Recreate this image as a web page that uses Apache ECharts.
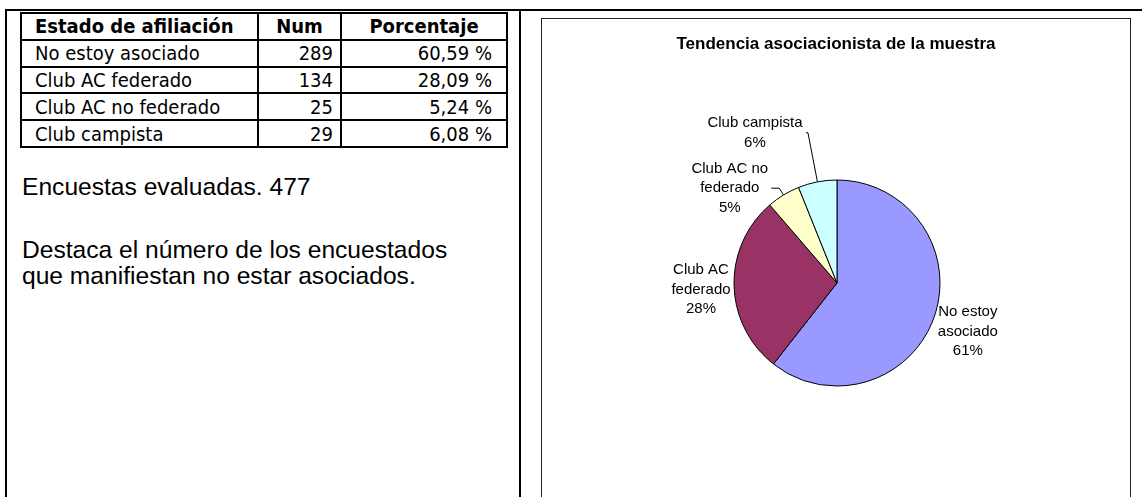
<!DOCTYPE html>
<html>
<head>
<meta charset="utf-8">
<script src="https://cdn.jsdelivr.net/npm/echarts@6/dist/echarts.min.js"></script>
<style>
  html, body { margin: 0; padding: 0; background: #fff; }
  body { position: relative; width: 1142px; height: 497px; overflow: hidden; }
  .frame { position: absolute; left: 5px; top: 9px; width: 1200px; height: 600px;
    border-top: 2px solid #000; border-left: 2px solid #000; }
  .split { position: absolute; left: 519px; top: 9px; width: 2px; height: 600px; background: #000; }
  .stats { position: absolute; left: 20px; top: 12px; width: 486px; table-layout: fixed;
    border-collapse: collapse; font-family: 'DejaVu Sans Condensed', 'DejaVu Sans', sans-serif;
    font-stretch: condensed; font-size: 20px; color: #000; }
  .stats td, .stats th { border: 2px solid #000; height: 24.8px; padding: 0; line-height: 24px; white-space: nowrap; }
  .stats th { font-weight: bold; text-align: center; }
  .stats .l { text-align: left; padding-left: 13px; }
  .stats .n { text-align: right; padding-right: 7px; }
  .stats .p { text-align: right; padding-right: 14px; }
  .notes { position: absolute; left: 22px; font-family: 'Liberation Sans', Arial, sans-serif;
    font-size: 24.6px; line-height: 26px; color: #000; margin: 0; }
  .box { position: absolute; left: 541px; top: 18px; width: 588px; height: 500px; border: 1px solid #222; }
  #chart { width: 588px; height: 478px; }
</style>
</head>
<body>
<div class="frame"></div>
<div class="split"></div>
<table class="stats" id="stats">
  <colgroup><col style="width:237px"><col style="width:83px"><col style="width:166px"></colgroup>
</table>
<p class="notes" id="total" style="top:174px"></p>
<p class="notes" style="top:237px">Destaca el número de los encuestados<br>que manifiestan no estar asociados.</p>
<div class="box"><div id="chart"></div></div>

<script>
const tableHeader = ['Estado de afiliación', 'Num', 'Porcentaje']
const categories = ['No estoy asociado', 'Club AC federado', 'Club AC no federado', 'Club campista']
const counts = [289, 134, 25, 29]
const shares = ['60,59 %', '28,09 %', '5,24 %', '6,08 %']
const surveyed = 477
const chartTitle = 'Tendencia asociacionista de la muestra'
// how Excel wrapped the slice names
const sliceLabels = ['No estoy\nasociado', 'Club AC\nfederado', 'Club AC no\nfederado', 'Club campista']

const sliceColors = ['#9999FF', '#993366', '#FFFFCC', '#CCFFFF']
const leaders = [
  { show: false, length: 0, length2: 0 },
  { show: false, length: 0, length2: 0 },
  { show: true, length: 8, length2: 8 },
  { show: true, length: 50, length2: 2 },
]
const labelNudge = [15, 4, 0, 0]
const FONT = "'Liberation Sans', Arial, sans-serif"

// table + notes
const table = document.getElementById('stats')
const head = table.insertRow()
head.innerHTML = `<th class="l" style="text-align:left">${tableHeader[0]}</th><th>${tableHeader[1]}</th><th>${tableHeader[2]}</th>`
categories.forEach((c, i) => {
  const tr = table.insertRow()
  tr.innerHTML = `<td class="l">${c}</td><td class="n">${counts[i]}</td><td class="p">${shares[i]}</td>`
})
document.getElementById('total').textContent = `Encuestas evaluadas. ${surveyed}`

// width of each wrapped label so its lines can be centred
const ctx = document.createElement('canvas').getContext('2d')
ctx.font = "15px 'Liberation Sans'"
const rich = {}
sliceLabels.forEach((s, i) => {
  const lines = [...s.split('\n'), '100%']
  rich['r' + i] = {
    width: Math.ceil(Math.max(...lines.map((l) => ctx.measureText(l).width))),
    align: 'center',
    fontSize: 15,
    lineHeight: 19.5,
    fontFamily: FONT,
    color: '#000',
  }
})

const chart = echarts.init(document.getElementById('chart'), null, { renderer: 'canvas' })
chart.setOption({
  animation: false,
  title: {
    text: chartTitle,
    left: 'center',
    top: 17,
    padding: 0,
    textStyle: { fontSize: 17, fontWeight: 'bold', fontFamily: FONT, color: '#000' },
  },
  series: [
    {
      type: 'pie',
      center: [295, 264],
      radius: 103,
      startAngle: 90,
      clockwise: true,
      percentPrecision: 0,
      avoidLabelOverlap: false,
      emphasis: { disabled: true },
      itemStyle: { borderColor: '#000', borderWidth: 1 },
      label: {
        position: 'outside',
        distanceToLabelLine: 3,
        formatter: (p) =>
          [...sliceLabels[p.dataIndex].split('\n'), p.percent + '%']
            .map((t) => `{r${p.dataIndex}|${t}}`)
            .join('\n'),
        rich,
      },
      labelLine: { lineStyle: { color: '#000', width: 1 }, smooth: false },
      labelLayout: (p) => ({ dy: labelNudge[p.dataIndex] }),
      data: categories.map((name, i) => ({
        name,
        value: counts[i],
        itemStyle: { color: sliceColors[i] },
        labelLine: leaders[i],
      })),
    },
  ],
})
</script>
</body>
</html>
